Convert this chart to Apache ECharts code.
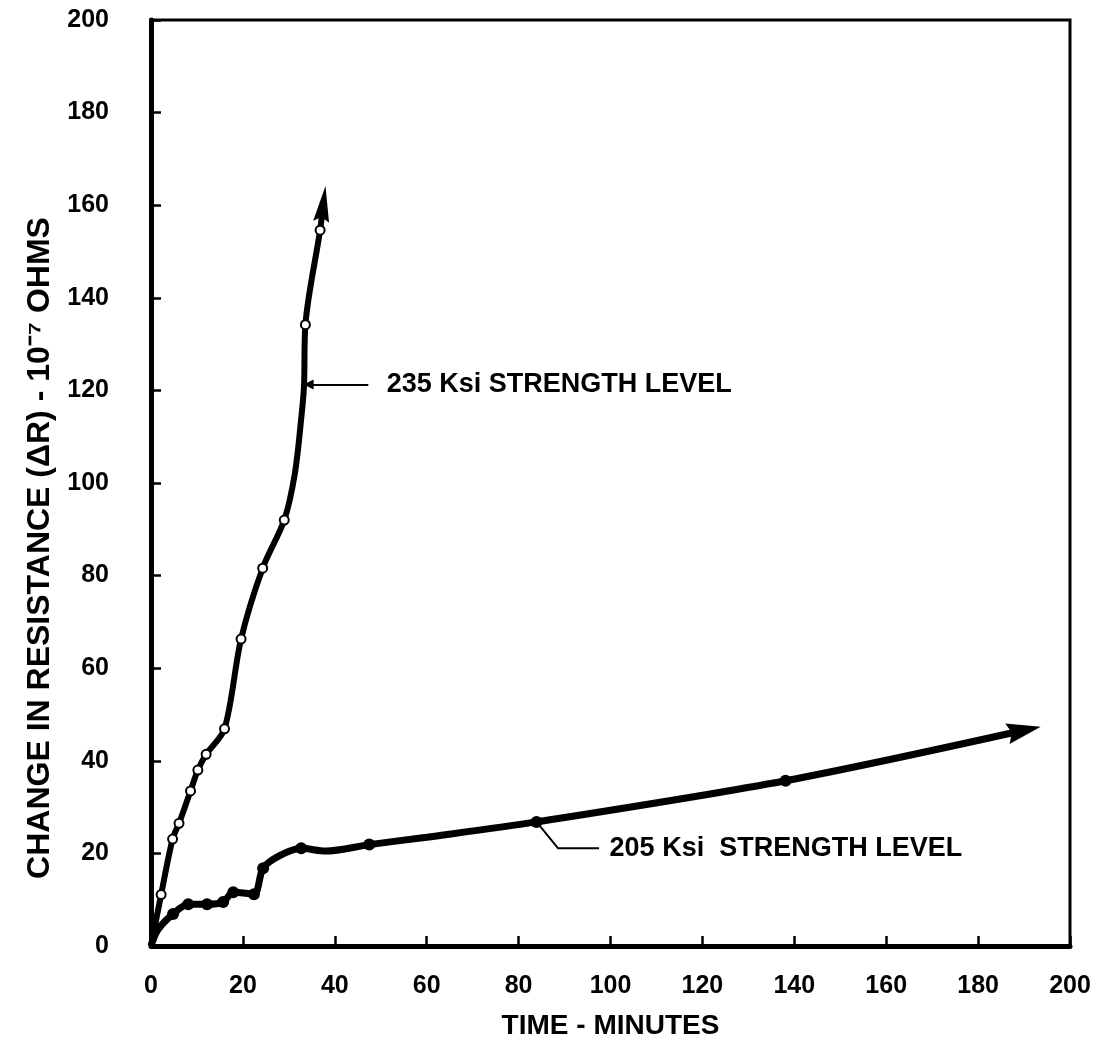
<!DOCTYPE html>
<html>
<head>
<meta charset="utf-8">
<script src="https://cdn.jsdelivr.net/npm/echarts@6/dist/echarts.min.js"></script>
<style>
html,body{margin:0;padding:0;background:#fff}
#chart{width:1103px;height:1045px}
</style>
</head>
<body>
<div id="chart"></div>
<script>
// ---- axis ticks ----
const xTickValues = [0, 20, 40, 60, 80, 100, 120, 140, 160, 180, 200];
const yTickValues = [0, 20, 40, 60, 80, 100, 120, 140, 160, 180, 200];

// ---- 235 Ksi strength level: measured points (open circles) ----
const ksi235X = [2.2, 4.7, 6.1, 8.6, 10.2, 12.0, 16.0, 19.6, 24.3, 29.0, 33.6, 36.8];
const ksi235Y = [11.1, 23.1, 26.5, 33.5, 38.0, 41.4, 46.9, 66.3, 81.6, 92.0, 134.2, 154.6];
// traced curve of the 235 Ksi line (last point = arrowhead centre)
const curve235X = [0, 2.2, 4.7, 6.1, 8.6, 10.2, 12.0, 16.0, 19.6, 24.3, 29.0, 31.3, 32.7, 33.3, 33.6, 36.8, 37.5];
const curve235Y = [0, 11.1, 23.1, 26.5, 33.5, 38.0, 41.4, 46.9, 66.3, 81.6, 92.0, 102.0, 114.0, 121.0, 134.2, 154.6, 160.3];

// ---- 205 Ksi strength level: measured points (filled dots) ----
const ksi205X = [4.8, 8.1, 12.2, 15.7, 17.9, 22.4, 24.4, 32.7, 47.5, 83.9, 138.1];
const ksi205Y = [6.9, 9.0, 9.0, 9.5, 11.6, 11.2, 16.8, 21.1, 21.9, 26.8, 35.7];
// traced curve of the 205 Ksi line (last point = arrowhead centre)
const curve205X = [0, 1.5, 4.8, 8.1, 12.2, 15.7, 17.9, 22.4, 24.4, 28.0, 32.7, 38.0, 47.5, 60.0, 83.9, 138.1, 190.0];
const curve205Y = [0, 3.5, 6.9, 9.0, 9.0, 9.5, 11.6, 11.2, 16.8, 19.5, 21.1, 20.5, 21.9, 23.5, 26.8, 35.7, 46.6];

// ---- annotations (data coordinates) ----
const label235Text = '235 Ksi STRENGTH LEVEL';
const label235Leader = [[47.3, 121.3], [34.3, 121.3]];
const label235Anchor = [51.3, 121.3];
const label205Text = '205 Ksi  STRENGTH LEVEL';
const label205Leader = [[83.9, 26.8], [88.6, 21.1], [97.5, 21.1]];
const label205Anchor = [99.8, 21.1];

const xTitle = 'TIME - MINUTES';
const yTitle = 'CHANGE IN RESISTANCE (ΔR) - 10⁻⁷ OHMS';

const FONT = 'Liberation Sans';
const ARROW = 'path://M5,0 L10,30 L5,26 L0,30 Z';
const zip = (xs, ys) => xs.map((x, i) => [x, ys[i]]);
const lastSeg = (xs, ys) => [[xs[xs.length - 2], ys[ys.length - 2]], [xs[xs.length - 1], ys[ys.length - 1]]];

const chart = echarts.init(document.getElementById('chart'), null, {renderer: 'canvas'});

const axisCommon = {
  type: 'value', min: 0, max: 200, interval: 20,
  splitLine: {show: false},
  axisLine: {show: true, lineStyle: {color: '#000', width: 5}},
  axisTick: {show: true, inside: true, length: 10, lineStyle: {color: '#000', width: 2.5}},
};

const seg235 = lastSeg(curve235X, curve235Y);
const seg205 = lastSeg(curve205X, curve205Y);

function buildOption(rot235, rot205) {
  return {
    animation: false,
    backgroundColor: '#fff',
    grid: {left: 151, right: 33, top: 20, bottom: 95, show: true, borderColor: '#000', borderWidth: 3, backgroundColor: 'transparent'},
    xAxis: Object.assign({}, axisCommon, {
      axisLabel: {margin: 28, fontSize: 25, fontWeight: 'bold', color: '#000', fontFamily: FONT},
      name: xTitle, nameLocation: 'middle', nameGap: 66,
      nameTextStyle: {fontSize: 28, fontWeight: 'bold', color: '#000', fontFamily: FONT}
    }),
    yAxis: Object.assign({}, axisCommon, {
      axisLabel: {margin: 42, fontSize: 25, fontWeight: 'bold', color: '#000', fontFamily: FONT},
      name: yTitle, nameLocation: 'middle', nameGap: 95,
      nameTextStyle: {fontSize: 32, fontWeight: 'bold', color: '#000', fontFamily: FONT, padding: [0, 130, 0, 0]}
    }),
    series: [
      {
        type: 'line', data: zip(curve235X, curve235Y), smooth: 0.3, showSymbol: false,
        lineStyle: {color: '#000', width: 6}, z: 2
      },
      {
        type: 'line', data: zip(curve205X, curve205Y), smooth: 0.3, showSymbol: false,
        lineStyle: {color: '#000', width: 7}, z: 2
      },
      {
        // arrowheads at the ends of both curves, oriented along the last segment
        type: 'scatter', z: 4, symbol: ARROW,
        itemStyle: {color: '#000', opacity: 1},
        data: [
          {value: seg235[1], symbolSize: [16, 36], symbolRotate: rot235},
          {value: seg205[1], symbolSize: [21, 34], symbolRotate: rot205}
        ]
      },
      {
        type: 'lines', coordinateSystem: 'cartesian2d', z: 3,
        symbol: ['none', 'triangle'], symbolSize: 10,
        lineStyle: {color: '#000', width: 2, opacity: 1},
        data: [{coords: label235Leader}]
      },
      {
        type: 'lines', coordinateSystem: 'cartesian2d', polyline: true, z: 3,
        symbol: 'none',
        lineStyle: {color: '#000', width: 2, opacity: 1},
        data: [{coords: label205Leader}]
      },
      {
        type: 'scatter', data: zip(ksi235X, ksi235Y), symbol: 'circle', symbolSize: 9, z: 5,
        itemStyle: {color: '#fff', borderColor: '#000', borderWidth: 2, opacity: 1}
      },
      {
        type: 'scatter', data: zip(ksi205X, ksi205Y), symbol: 'circle', symbolSize: 12, z: 5,
        itemStyle: {color: '#000', opacity: 1}
      },
      {
        type: 'scatter', symbolSize: 0, z: 6, silent: true,
        itemStyle: {opacity: 1},
        data: [
          {value: label235Anchor, label: {formatter: label235Text}},
          {value: label205Anchor, label: {formatter: label205Text}}
        ],
        label: {show: true, position: 'right', distance: 0, fontSize: 27, fontWeight: 'bold', color: '#000', opacity: 1, fontFamily: FONT}
      }
    ]
  };
}

chart.setOption(buildOption(0, 0));

function segRotation(seg) {
  const p0 = chart.convertToPixel({gridIndex: 0}, seg[0]);
  const p1 = chart.convertToPixel({gridIndex: 0}, seg[1]);
  const dx = p1[0] - p0[0], dy = p1[1] - p0[1];
  return -Math.atan2(dx, -dy) * 180 / Math.PI;
}
chart.setOption(buildOption(segRotation(seg235), segRotation(seg205)));
</script>
</body>
</html>
